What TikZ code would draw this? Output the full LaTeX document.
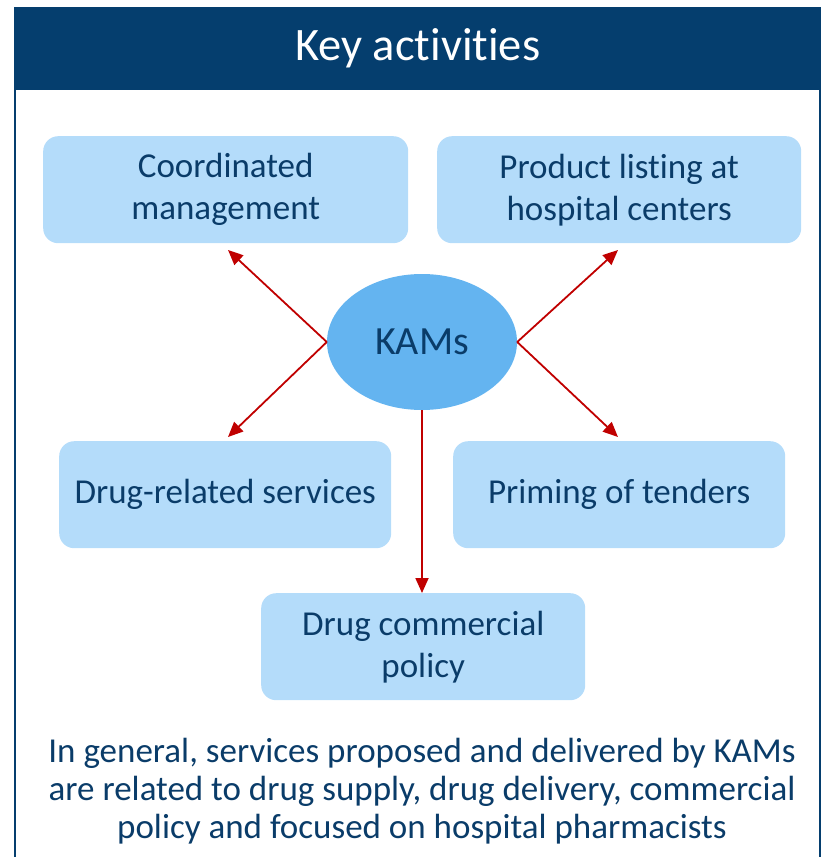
\documentclass[tikz,border=0pt]{standalone}
\usepackage{fontspec}
\setmainfont{Carlito}[RawFeature={-liga;-calt;-clig}]
\usetikzlibrary{arrows.meta,shapes.geometric}
\definecolor{hdr}{RGB}{5,62,110}
\definecolor{txt}{RGB}{10,60,105}
\definecolor{boxfill}{RGB}{180,220,250}
\definecolor{ellfill}{RGB}{100,180,240}
\definecolor{arr}{RGB}{192,0,0}
\tikzset{
  actbox/.style={draw=none, fill=boxfill, rounded corners=15pt, text=txt, font=\fontsize{35}{42}\selectfont, align=center, anchor=north west, inner sep=0pt},
  conn/.style={draw=arr, line width=1.8pt, -{Triangle[length=15pt,width=13pt]}},
}
\begin{document}
\begin{tikzpicture}[x=1pt,y=-1pt]
\useasboundingbox (0,0) rectangle (825,857);
% header
\node[fill=hdr, minimum width=807pt, minimum height=83pt, inner sep=0pt, anchor=north west, text=white, font=\fontsize{46.5}{50}\selectfont] (hd) at (14,7) {\raisebox{-3pt}{Key act\kern0pt ivit\kern0pt ies}};
\draw[hdr, line width=2pt] (15,90) -- (15,857);
\draw[hdr, line width=2pt] (820,90) -- (820,857);
% boxes
\node[actbox, minimum width=365pt, minimum height=107pt] (cm) at (43,136) {\raisebox{-2pt}{Coordinated}\\\raisebox{-2pt}{management}};
\node[actbox, minimum width=364pt, minimum height=107pt] (pl) at (437,136) {\raisebox{-2pt}{Product list\kern0pt ing at}\\\raisebox{-2pt}{hospital centers}};
\node[actbox, minimum width=332pt, minimum height=107pt] (dr) at (59,441) {\raisebox{-2pt}{Drug-related services}};
\node[actbox, minimum width=332pt, minimum height=107pt] (pt) at (453,441) {\raisebox{-2pt}{Priming of tenders}};
\node[actbox, minimum width=324pt, minimum height=107pt] (dc) at (261,593) {\raisebox{-2pt}{Drug commercial}\\\raisebox{-2pt}{policy}};
% ellipse
\node[ellipse, fill=ellfill, minimum width=190pt, minimum height=136pt, inner sep=0pt, text=txt, font=\fontsize{40}{44}\selectfont] (kam) at (422,342) {KAMs};
% connectors
\draw[conn] (kam.west) -- (228,250);
\draw[conn] (kam.west) -- (228,437);
\draw[conn] (kam.east) -- (618,250);
\draw[conn] (kam.east) -- (618,437);
\draw[conn] (kam.south -| 422,0) -- (dc.north -| 422,0);
% bottom text
\node[text=txt, font=\fontsize{35}{38}\selectfont, align=center] (note) at (422,791) {In general, services proposed and delivered by KAMs\\are related to drug supply, drug delivery, commercial\\policy and focused on hospital pharmacists};
\end{tikzpicture}
\end{document}
